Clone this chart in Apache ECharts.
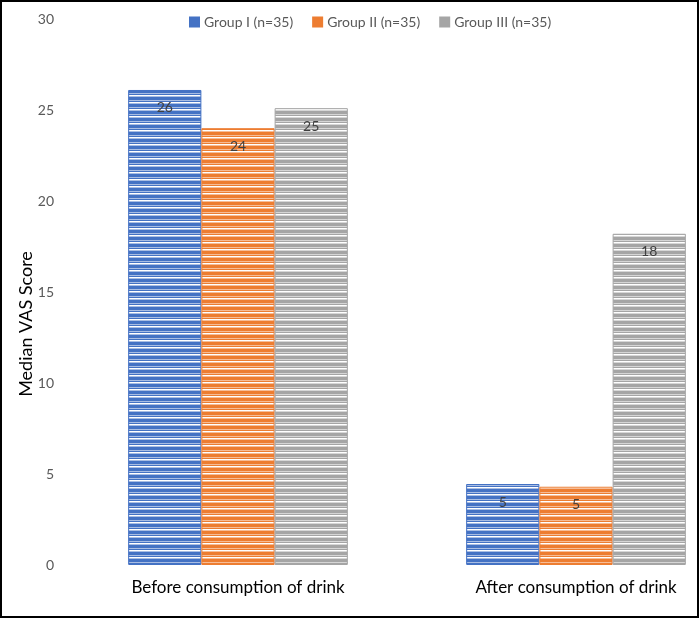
<!DOCTYPE html>
<html>
<head>
<meta charset="utf-8">
<script src="https://cdn.jsdelivr.net/npm/echarts@6/dist/echarts.min.js"></script>
<style>html,body{margin:0;padding:0;background:#fff}#c{width:699px;height:618px}</style>
</head>
<body>
<div id="c"></div>
<script>
const categories = ['Before consumption of drink', 'After consumption of drink'];
const groupNames = ['Group I (n=35)', 'Group II (n=35)', 'Group III (n=35)'];
const group1 = [26.1, 4.45];
const group2 = [24.0, 4.3];
const group3 = [25.1, 18.2];
const group1Labels = ['26', '5'];
const group2Labels = ['24', '5'];
const group3Labels = ['25', '18'];
const yTicks = [0, 5, 10, 15, 20, 25, 30];

function stripe(base, light) {
  const cv = document.createElement('canvas');
  cv.width = 4; cv.height = 7;
  const ctx = cv.getContext('2d');
  const rows = [base, base, light, base, '#ffffff', light, base];
  rows.forEach((c, i) => { ctx.fillStyle = c; ctx.fillRect(0, i, 4, 1); });
  return cv;
}
const colors = ['#4472C4', '#ED7D31', '#A5A5A5'];
const lights = ['#a9bde3', '#f6bd98', '#d6d6d6'];
const values = [group1, group2, group3];
const labels = [group1Labels, group2Labels, group3Labels];

const chart = echarts.init(document.getElementById('c'));
const FONT = 'Lato';
chart.setOption({
  animation: false,
  textStyle: { fontFamily: FONT },
  graphic: [{
    type: 'rect', shape: { x: 1, y: 1, width: 697, height: 616 },
    style: { fill: 'none', stroke: '#000', lineWidth: 2 }, z: 100
  }],
  legend: {
    top: 10, left: 184, itemWidth: 9, itemHeight: 9, itemGap: 19,
    textStyle: { color: '#595959', fontSize: 14, fontFamily: FONT },
    data: groupNames.map((n, i) => ({ name: n, icon: 'rect', itemStyle: { color: colors[i] } }))
  },
  grid: { left: 69, width: 676, top: 19, bottom: 53, containLabel: false, outerBoundsMode: 'none' },
  xAxis: {
    type: 'category', data: categories,
    axisLine: { show: false }, axisTick: { show: false },
    axisLabel: { color: '#000', fontSize: 17, margin: 14, fontFamily: FONT }
  },
  yAxis: {
    type: 'value', min: yTicks[0], max: yTicks[yTicks.length - 1], interval: 5,
    splitLine: { show: false }, axisLine: { show: false }, axisTick: { show: false },
    axisLabel: { color: '#595959', fontSize: 14, margin: 15, fontFamily: FONT },
    name: 'Median VAS Score', nameLocation: 'middle', nameGap: 34, nameMoveOverlap: false,
    nameTextStyle: { color: '#000', fontSize: 18, fontFamily: FONT, padding: [0, 64, 0, 0] }
  },
  series: values.map((v, i) => ({
    type: 'bar', name: groupNames[i], data: v,
    barGap: '0%', barCategoryGap: '35%',
    itemStyle: { color: { image: stripe(colors[i], lights[i]), repetition: 'repeat' }, borderColor: colors[i], borderWidth: 1 },
    label: {
      show: true, position: 'insideTop', distance: 11, color: '#404040', fontSize: 14, fontFamily: FONT,
      formatter: p => labels[i][p.dataIndex]
    }
  }))
});
</script>
</body>
</html>
